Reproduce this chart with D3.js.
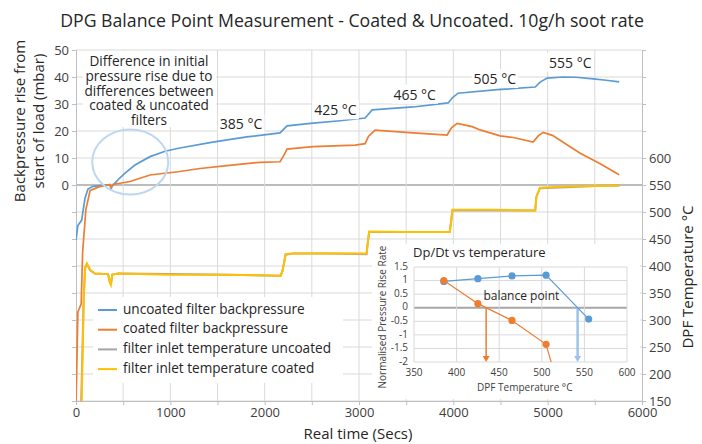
<!DOCTYPE html>
<html><head><meta charset="utf-8">
<script src="https://cdn.jsdelivr.net/npm/d3@7/dist/d3.min.js"></script>
<style>
html,body{margin:0;padding:0;background:#fff;}
svg{display:block;font-family:"Open Sans",Lato,sans-serif;}
</style></head>
<body><svg id="c" width="702" height="444"></svg>
<script>
// ---- data (time in seconds) ----
const timeTicks = [0,1000,2000,3000,4000,5000,6000];
const leftTicks = [0,10,20,30,40,50];
const rightTicks = [150,200,250,300,350,400,450,500,550,600];

// backpressure rise (mbar), [time, value]
const uncoatedBP = [[0,-20.4],[20,-15],[60,-13],[95,-5],[127,-1.5],[180,-0.5],[260,-0.2],[360,0],[372,-1.3],[385,-0.3],[420,1],[460,2.5],[520,4.4],[625,7.4],[785,10.5],[945,12.5],[1100,13.7],[1450,15.9],[1810,17.8],[2163,19.3],[2200,20.6],[2237,21.9],[2513,22.9],[2800,23.8],[3065,24.8],[3100,26.2],[3139,27.8],[3574,28.9],[3945,30.4],[3990,32.3],[4050,34],[4465,35.3],[4868,36.3],[4920,38.1],[4995,39.6],[5164,40],[5300,39.9],[5483,39.3],[5620,38.8],[5758,38.2]];
const coatedBP = [[0,-82],[20,-47],[55,-44],[70,-25],[105,-9],[150,-2],[250,-0.6],[360,0.2],[372,-1],[390,0.2],[573,1.3],[785,3.7],[1100,5],[1315,6.1],[1600,7.2],[1951,8.4],[2163,8.6],[2200,10.8],[2237,13.3],[2513,14.2],[2959,14.8],[3065,15.3],[3100,18],[3170,20.3],[3574,19.3],[3934,18.5],[3980,21.2],[4040,22.8],[4200,21.6],[4284,20.4],[4496,18.2],[4637,17.6],[4846,15.9],[4900,18.2],[4952,19.5],[5050,18.4],[5345,11.8],[5557,7.9],[5758,3.8]];

// filter inlet temperature (°C), [time, value]
const tempUncoated = [[45,80],[62,200],[80,330],[95,395],[115,404],[150,392],[200,386],[340,385],[358,372],[370,366],[385,384],[450,386],[1000,385],[1600,384],[2170,382],[2190,392],[2222,421],[2300,423],[2700,423],[3080,422],[3092,442],[3108,463],[3500,463],[3962,463],[3976,482],[3990,503],[4400,503],[4868,503],[4880,528],[4918,544],[5200,546],[5500,548],[5760,549]];
const tempCoated = [[50,60],[66,200],[84,350],[98,398],[115,405],[150,393],[200,386],[340,385],[358,370],[370,365],[385,384],[450,386],[1000,384],[1600,384],[2170,382],[2190,391],[2222,422],[2300,423],[2700,423],[3080,423],[3092,441],[3108,464],[3500,463],[3962,463],[3976,481],[3990,504],[4400,504],[4868,503],[4880,527],[4918,545],[5200,547],[5500,548],[5760,549]];

const tempLabels = [["385 °C",1750,22],["425 °C",2750,27.2],["465 °C",3590,33],["505 °C",4440,38.8],["555 °C",5240,44.8]];

// inset: normalised pressure rise rate vs DPF temperature
const insetXTicks = [350,400,450,500,550,600];
const insetYTicks = [1.5,1,0.5,0,-0.5,-1,-1.5,-2];
const insetUncoated = [[385,0.97],[425,1.07],[465,1.17],[505,1.2],[555,-0.42]];
const insetCoated = [[385,1.0],[425,0.15],[465,-0.47],[505,-1.35],[555,-6.8]];

const seriesNames = ["uncoated filter backpressure","coated filter backpressure","filter inlet temperature uncoated","filter inlet temperature coated"];
const colors = {blue:"#5b9bd5",orange:"#ed7d31",gray:"#a5a5a5",yellow:"#ffc000"};

// ---- drawing ----
const svg = d3.select("#c");
const x = d3.scaleLinear().domain([0,6000]).range([76,642]);
const yL = d3.scaleLinear().domain([-80,50]).range([401,50]);
const yR = d3.scaleLinear().domain([150,800]).range([401,50]);
const txtCol = "#404040";

svg.append("text").attr("x",352).attr("y",27).attr("text-anchor","middle")
  .attr("font-size",17.7).attr("fill","#262626")
  .text("DPG Balance Point Measurement - Coated & Uncoated. 10g/h soot rate");

// gridlines
const g = svg.append("g");
g.selectAll("line.h").data(d3.range(-80,51,10)).join("line")
  .attr("x1",x(0)).attr("x2",x(6000)).attr("y1",d=>yL(d)).attr("y2",d=>yL(d))
  .attr("stroke",d=>d===0?"#a6a6a6":"#d9d9d9").attr("stroke-width",d=>d===0?1.5:1);
g.selectAll("line.v").data(d3.range(500,6000,500)).join("line")
  .attr("x1",d=>x(d)).attr("x2",d=>x(d)).attr("y1",yL(50)).attr("y2",yL(-80))
  .attr("stroke","#d9d9d9");

// axes
const axL = d3.axisLeft(yL).tickValues(d3.range(-80,51,10)).tickSize(4).tickFormat(d=>leftTicks.includes(d)?d:"");
const gL = svg.append("g").attr("transform",`translate(${x(0)},0)`).call(axL);
const axR = d3.axisRight(yR).tickValues(d3.range(150,801,50)).tickSize(4).tickFormat(d=>rightTicks.includes(d)?d:"");
const gR = svg.append("g").attr("transform",`translate(${x(6000)},0)`).call(axR);
const axB = d3.axisBottom(x).tickValues(d3.range(0,6001,500)).tickSize(4).tickFormat(d=>timeTicks.includes(d)?d:"");
const gB = svg.append("g").attr("transform",`translate(0,${yL(-80)})`).call(axB);
[gL,gR,gB].forEach(a=>{
  a.select(".domain").attr("stroke","#bfbfbf");
  a.selectAll(".tick line").attr("stroke","#bfbfbf");
  a.selectAll(".tick text").attr("fill",txtCol).attr("font-size",13).attr("font-family","'Open Sans',sans-serif");
});
gL.selectAll(".tick text").attr("x",-7);
gR.selectAll(".tick text").attr("x",7);
gB.selectAll(".tick text").attr("y",7);

// axis titles
svg.append("text").attr("transform","translate(25,121) rotate(-90)").attr("text-anchor","middle")
  .attr("font-size",15).attr("fill","#262626").text("Backpressure rise from");
svg.append("text").attr("transform","translate(44,121) rotate(-90)").attr("text-anchor","middle")
  .attr("font-size",15).attr("fill","#262626").text("start of load (mbar)");
svg.append("text").attr("transform","translate(693,277) rotate(-90)").attr("text-anchor","middle")
  .attr("font-size",15).attr("fill","#262626").text("DPF Temperature °C");
svg.append("text").attr("x",358).attr("y",439).attr("text-anchor","middle")
  .attr("font-size",15).attr("fill","#262626").text("Real time (Secs)");

// clip
svg.append("clipPath").attr("id","plot").append("rect")
  .attr("x",x(0)).attr("y",yL(50)).attr("width",x(6000)-x(0)).attr("height",yL(-80)-yL(50));

const plot = svg.append("g").attr("clip-path","url(#plot)");
const lineL = d3.line().x(d=>x(d[0])).y(d=>yL(d[1]));
const lineR = d3.line().x(d=>x(d[0])).y(d=>yR(d[1]));
plot.append("path").datum(tempUncoated).attr("d",lineR).attr("fill","none").attr("stroke",colors.gray).attr("stroke-width",2);
plot.append("path").datum(tempCoated).attr("d",lineR).attr("fill","none").attr("stroke",colors.yellow).attr("stroke-width",2);
plot.append("path").datum(uncoatedBP).attr("d",lineL).attr("fill","none").attr("stroke",colors.blue).attr("stroke-width",1.7);
plot.append("path").datum(coatedBP).attr("d",lineL).attr("fill","none").attr("stroke",colors.orange).attr("stroke-width",1.7);

// annotation text box
const annLines = ["Difference in initial","pressure rise due to","differences between","coated & uncoated","filters"];
svg.append("rect").attr("x",83).attr("y",51).attr("width",133).attr("height",76).attr("fill","#fff");
svg.append("g").selectAll("text").data(annLines).join("text")
  .attr("x",149).attr("y",(d,i)=>66+i*14.8).attr("text-anchor","middle")
  .attr("font-size",13.6).attr("fill","#262626").text(d=>d);
// ellipse
svg.append("ellipse").attr("cx",x(575)).attr("cy",yL(8.5)).attr("rx",38).attr("ry",32.5)
  .attr("fill","none").attr("stroke","#bdd7ee").attr("stroke-width",2);

// temperature labels
tempLabels.forEach(([t,tx,v])=>{
  const lg = svg.append("g");
  const bg = lg.append("rect").attr("fill","#fff");
  const te = lg.append("text").attr("x",x(tx)).attr("y",yL(v)).attr("text-anchor","middle")
    .attr("dominant-baseline","middle").attr("font-size",14).attr("fill","#262626").text(t);
  const bb = te.node().getBBox();
  bg.attr("x",bb.x-2).attr("y",bb.y).attr("width",bb.width+4).attr("height",bb.height);
});

// legend
const leg = svg.append("g");
leg.append("rect").attr("x",93).attr("y",297).attr("width",250).attr("height",86).attr("fill","#fff");
const legCols = [colors.blue,colors.orange,colors.gray,colors.yellow];
seriesNames.forEach((n,i)=>{
  const yy = 310+i*19.7;
  leg.append("line").attr("x1",98).attr("x2",117).attr("y1",yy).attr("y2",yy).attr("stroke",legCols[i]).attr("stroke-width",2);
  leg.append("text").attr("x",123).attr("y",yy).attr("dominant-baseline","middle").attr("font-size",13.6).attr("fill","#262626").text(n);
});

// ---- inset ----
const ins = svg.append("g");
ins.append("rect").attr("x",372).attr("y",244).attr("width",268).attr("height",155).attr("fill","#fff");
const ix = d3.scaleLinear().domain([350,600]).range([414,627]);
const iy = d3.scaleLinear().domain([-2,1.5]).range([362,267]);
ins.selectAll("line.ih").data(insetYTicks).join("line")
  .attr("x1",ix(350)).attr("x2",ix(600)).attr("y1",d=>iy(d)).attr("y2",d=>iy(d))
  .attr("stroke",d=>d===0?"#a6a6a6":"#d9d9d9").attr("stroke-width",d=>d===0?2:1);
ins.selectAll("line.iv").data(insetXTicks).join("line")
  .attr("x1",d=>ix(d)).attr("x2",d=>ix(d)).attr("y1",iy(1.5)).attr("y2",iy(-2))
  .attr("stroke","#d9d9d9");
ins.selectAll("text.iyt").data(insetYTicks).join("text")
  .attr("x",408).attr("y",d=>iy(d)).attr("text-anchor","end").attr("dominant-baseline","middle")
  .attr("font-size",10).attr("fill",txtCol).text(d=>d);
ins.selectAll("text.ixt").data(insetXTicks).join("text")
  .attr("x",d=>ix(d)).attr("y",iy(-2)+11).attr("text-anchor","middle").attr("dominant-baseline","middle")
  .attr("font-size",10).attr("fill",txtCol).text(d=>d);
ins.append("text").attr("x",413).attr("y",257).attr("font-size",13).attr("fill","#262626").text("Dp/Dt vs temperature");
ins.append("text").attr("x",ix(480)).attr("y",iy(-2)+26).attr("text-anchor","middle").attr("dominant-baseline","middle")
  .attr("font-size",10).attr("fill",txtCol).text("DPF Temperature °C");
ins.append("text").attr("transform","translate(386,317) rotate(-90)").attr("text-anchor","middle")
  .attr("font-size",10).attr("fill",txtCol).text("Normalised Pressure Rise Rate");
ins.append("text").attr("x",ix(476)).attr("y",iy(0.4)).attr("text-anchor","middle").attr("dominant-baseline","middle")
  .attr("font-size",12).attr("fill","#262626").text("balance point");

svg.append("clipPath").attr("id","iclip").append("rect")
  .attr("x",ix(350)).attr("y",iy(1.5)).attr("width",ix(600)-ix(350)).attr("height",iy(-2)-iy(1.5));
const ic = ins.append("g").attr("clip-path","url(#iclip)");
const iline = d3.line().x(d=>ix(d[0])).y(d=>iy(d[1]));

function zeroCross(arr){
  for(let i=1;i<arr.length;i++){
    const [a,va]=arr[i-1],[b,vb]=arr[i];
    if(va>=0 && vb<0) return a+(b-a)*va/(va-vb);
  }
  return null;
}
// arrows
function arrow(t,col,w){
  const xx = ix(t);
  ic.append("line").attr("x1",xx).attr("x2",xx).attr("y1",iy(0)).attr("y2",iy(-2)-4)
    .attr("stroke",col).attr("stroke-width",w);
  ins.append("path").attr("d",`M${xx-3.5},${iy(-2)-6}L${xx+3.5},${iy(-2)-6}L${xx},${iy(-2)}Z`).attr("fill",col);
}
arrow(zeroCross(insetCoated),colors.orange,1.5);
arrow(zeroCross(insetUncoated),"#9dc3e6",2.5);

ic.append("path").datum(insetUncoated).attr("d",iline).attr("fill","none").attr("stroke",colors.blue).attr("stroke-width",1.2);
ic.append("path").datum(insetCoated).attr("d",iline).attr("fill","none").attr("stroke",colors.orange).attr("stroke-width",1.2);
ins.selectAll("circle.u").data(insetUncoated.filter(d=>d[1]>=-2)).join("circle")
  .attr("cx",d=>ix(d[0])).attr("cy",d=>iy(d[1])).attr("r",3.6).attr("fill",colors.blue);
ins.selectAll("circle.o").data(insetCoated.filter(d=>d[1]>=-2)).join("circle")
  .attr("cx",d=>ix(d[0])).attr("cy",d=>iy(d[1])).attr("r",3.6).attr("fill",colors.orange);
</script></body></html>
